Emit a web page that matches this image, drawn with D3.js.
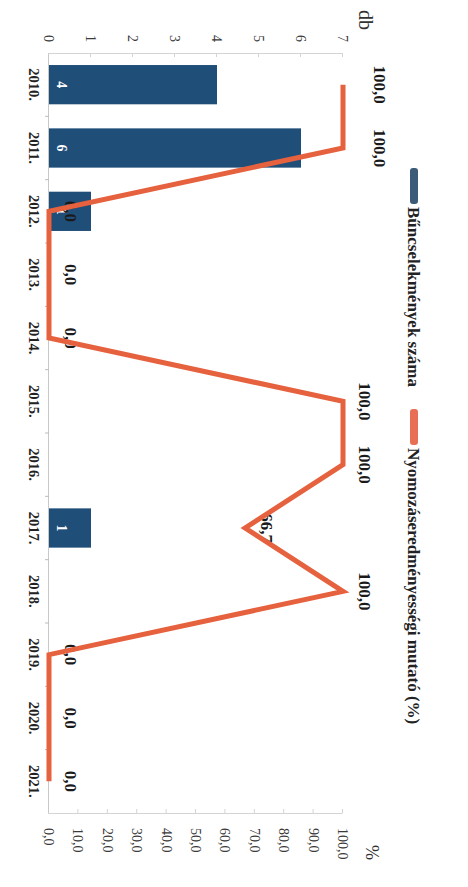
<!DOCTYPE html>
<html><head><meta charset="utf-8">
<script src="https://cdn.jsdelivr.net/npm/d3@7/dist/d3.min.js"></script>
<style>html,body{margin:0;padding:0;background:#fff;} svg{display:block}</style>
</head><body>
<script>
// ---- data ----
const years = ["2010.","2011.","2012.","2013.","2014.","2015.","2016.","2017.","2018.","2019.","2020.","2021."];
const crimeCounts = [4, 6, 1, null, null, null, null, 1, null, null, null, null];
const effectiveness = [100, 100, 0, 0, 0, 100, 100, 66.7, 100, 0, 0, 0];
const countTicks = [0, 1, 2, 3, 4, 5, 6, 7];
const pctTicks = [0, 10, 20, 30, 40, 50, 60, 70, 80, 90, 100];
const seriesNames = ["Bűncselekmények száma", "Nyomozáseredményességi mutató (%)"];
const countUnit = "db";
const pctUnit = "%";

// ---- layout / style ----
const W = 468, H = 887;
const barColor = "#1f4e78";
const lineColor = "#e6613e";
const serif = "'Liberation Serif','Times New Roman',serif";
const labelNudge = {"2010.": 15, "2011.": 15};

const svg = d3.select("body").append("svg").attr("width", W).attr("height", H);
svg.append("rect").attr("width", W).attr("height", H).attr("fill", "#fff");
// The chart is drawn in its original landscape orientation, then turned 90° clockwise.
const g = svg.append("g").attr("transform", `translate(${W},0) rotate(90)`);

const x = d3.scaleBand().domain(years).range([53, 813]).paddingInner(0.38).paddingOuter(0.19);
const yL = d3.scaleLinear().domain([0, 7]).range([419, 125]);
const yR = d3.scaleLinear().domain([0, 100]).range([419, 125]);
const cx = d => x(d) + x.bandwidth() / 2;
const fmt = v => d3.format(".1f")(v).replace(".", ",");

// left (count) axis
const axL = g.append("g").attr("transform", "translate(53,0)")
  .call(d3.axisLeft(yL).tickValues(countTicks).tickFormat(d3.format("d")).tickSizeInner(-4).tickSizeOuter(0).tickPadding(11));
// right (%) axis
const axR = g.append("g").attr("transform", "translate(813,0)")
  .call(d3.axisRight(yR).tickValues(pctTicks).tickFormat(fmt).tickSizeInner(-4).tickSizeOuter(0).tickPadding(15));
[axL, axR].forEach(a => {
  a.select(".domain").attr("stroke", "#d4d4d4");
  a.selectAll(".tick line").attr("stroke", "#d4d4d4");
  a.selectAll("text").attr("font-family", serif).attr("font-size", 14).attr("fill", "#3a3a3a");
});
// category axis
const axB = g.append("g").attr("transform", "translate(0,419)")
  .call(d3.axisBottom(x).tickSize(0).tickPadding(10));
axB.select(".domain").attr("stroke", "#c8c8c8");
axB.selectAll("text").attr("font-family", serif).attr("font-size", 14.5).attr("font-weight", "bold").attr("fill", "#222");
const step = x.step();
axB.selectAll(".bnd").data(years.slice(1)).enter().append("line")
  .attr("x1", d => x(d) - step * x.paddingInner() / 2).attr("x2", d => x(d) - step * x.paddingInner() / 2)
  .attr("y1", 0).attr("y2", 4).attr("stroke", "#bbb");

// unit labels
g.append("text").attr("x", 10).attr("y", 102).attr("dy", "0.35em").text(countUnit)
  .attr("font-family", serif).attr("font-size", 20).attr("fill", "#333");
g.append("text").attr("x", 845).attr("y", 96).attr("dy", "0.35em").text(pctUnit)
  .attr("font-family", serif).attr("font-size", 18).attr("fill", "#333");

// bars
const barData = years.map((y, i) => ({y, v: crimeCounts[i]})).filter(d => d.v != null);
g.selectAll(".bar").data(barData).enter().append("rect")
  .attr("x", d => x(d.y)).attr("width", x.bandwidth())
  .attr("y", d => yL(d.v)).attr("height", d => yL(0) - yL(d.v))
  .attr("fill", barColor);
g.selectAll(".blab").data(barData).enter().append("text")
  .attr("x", d => cx(d.y)).attr("y", yL(0) - 13).attr("dy", "0.35em")
  .attr("text-anchor", "middle").text(d => d.v)
  .attr("font-family", serif).attr("font-size", 14).attr("font-weight", "bold").attr("fill", "#fff");

// line labels
const lineData = years.map((y, i) => ({y, v: effectiveness[i]}));
g.selectAll(".llab").data(lineData).enter().append("text")
  .attr("x", d => cx(d.y)).attr("y", d => yR(d.v) - 22 - (labelNudge[d.y] || 0)).attr("dy", "0.35em")
  .attr("text-anchor", "middle").text(d => fmt(d.v))
  .attr("font-family", serif).attr("font-size", 17).attr("font-weight", "bold").attr("fill", "#1a1a1a");

// line
g.append("path").datum(lineData)
  .attr("d", d3.line().x(d => cx(d.y)).y(d => yR(d.v)))
  .attr("fill", "none").attr("stroke", lineColor).attr("stroke-width", 5)
  .attr("stroke-linejoin", "miter");

// legend
const leg = g.append("g").attr("transform", "translate(168,54)");
let lx = 0;
seriesNames.forEach((name, i) => {
  leg.append("rect").attr("x", lx).attr("y", -4).attr("width", 36).attr("height", 8).attr("rx", 3)
    .attr("fill", i === 0 ? "#3b5b78" : "#e86f56");
  const t = leg.append("text").attr("x", lx + 39).attr("y", 0).attr("dy", "0.35em").text(name)
    .attr("font-family", serif).attr("font-size", 17).attr("font-weight", "bold").attr("fill", "#222");
  lx += 39 + t.node().getComputedTextLength() + 22;
});
</script>
</body></html>
